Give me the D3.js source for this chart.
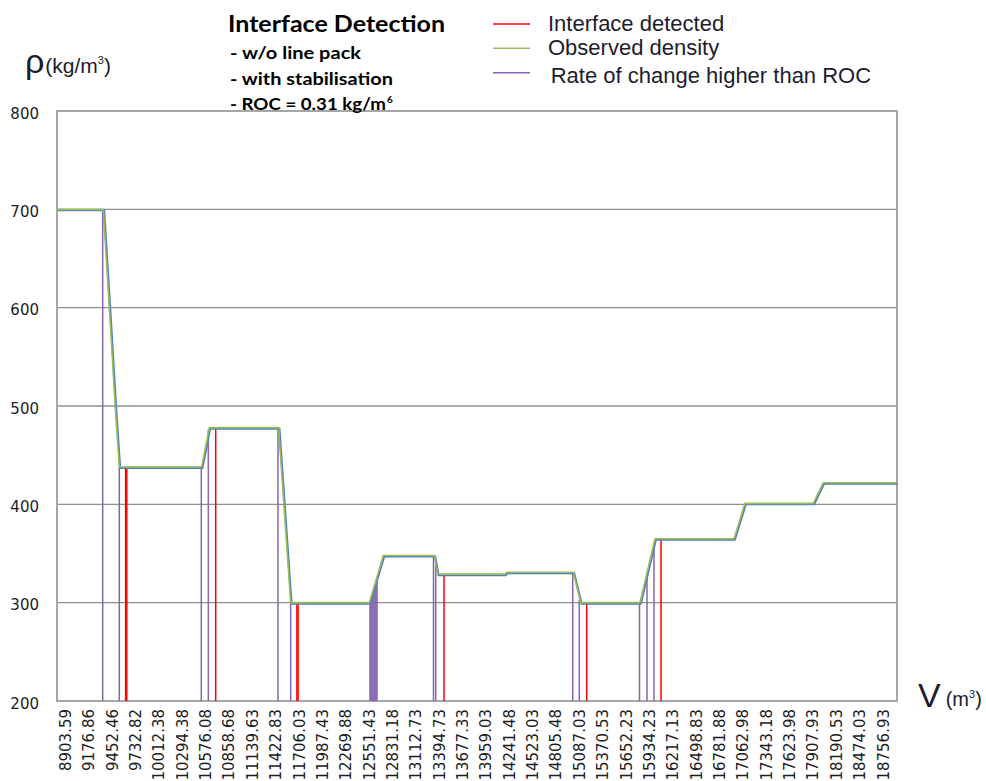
<!DOCTYPE html>
<html>
<head>
<meta charset="utf-8">
<script src="https://cdn.jsdelivr.net/npm/d3@7"></script>
<style>
  body { margin: 0; background: #ffffff; }
  svg { display: block; }
</style>
</head>
<body>
<svg id="chart" width="986" height="781"></svg>
<script>
// Category labels printed along the volume axis (m³)
const xTickLabels = [
  "8903.59", "9176.86", "9452.46", "9732.82", "10012.38", "10294.38",
  "10576.08", "10858.68", "11139.63", "11422.83", "11706.03", "11987.43",
  "12269.88", "12551.43", "12831.18", "13112.73", "13394.73", "13677.33",
  "13959.03", "14241.48", "14523.03", "14805.48", "15087.03", "15370.53",
  "15652.23", "15934.23", "16217.13", "16498.83", "16781.88", "17062.98",
  "17343.18", "17623.98", "17907.93", "18190.53", "18474.03", "18756.93"
];

// Density axis ticks (kg/m³)
const yTicks = [200, 300, 400, 500, 600, 700, 800];

// Observed density profile: volume (m³) and density (kg/m³)
const densityVolume = [
  8810, 9353.1, 9423.9, 9495.4, 9543.4, 10534.4, 10626.2, 11463.6,
  11610.3, 12558.9, 12726.5, 13340.9, 13381.9, 14195.1, 14219.2, 15019.3,
  15108.6, 15825.6, 16006.9, 16961.4, 17093.7, 17917.4, 18038.4, 18935
];
const densityValue = [
  700, 700, 601, 499, 438, 438, 478, 478,
  300, 300, 348, 348, 329, 329, 331, 331,
  300, 300, 365, 365, 401, 401, 422, 422
];

// Points where an interface was detected
const interfaceVolume = [9619, 9633, 10703.6, 11685.4, 11699.9, 13458.1, 15181.4, 16079.6];
const interfaceDensity = [438, 438, 478, 300, 300, 329, 300, 365];

// Points where the rate of change exceeds the ROC threshold
const rocVolume = [
  9346.0, 9543.4, 10529.5, 10614.1, 11456.3, 11610.3,
  12567.2, 12579.2, 12591.2, 12603.2, 12615.1, 12627.1, 12639.1, 12651.1,
  13331.2, 13357.8, 15012.1, 15091.6, 15819.6, 15910.1, 15994.8
];
const rocDensity = [
  700, 438, 438, 476, 478, 300,
  302, 306, 309, 313, 316, 319, 323, 326,
  348, 340, 331, 303, 300, 330, 361
];

// Legend entries
const legendLabels = ["Interface detected", "Observed density", "Rate of change higher than ROC"];
const legendColors = ["#ff0000", "#9bbb59", "#8466ad"];

const svg = d3.select("#chart");
const plot = { left: 57, right: 897, top: 111, bottom: 701 };

// Category axis: labels sit at evenly spaced slots, values between them map linearly
const tickNums = xTickLabels.map(Number);
const firstSlot = 65, lastSlot = 882.6;
const slotStep = (lastSlot - firstSlot) / (tickNums.length - 1);
const x = d3.scaleLinear()
  .domain([densityVolume[0], ...tickNums, densityVolume[densityVolume.length - 1]])
  .range([plot.left, ...tickNums.map((d, i) => firstSlot + i * slotStep), plot.right]);

const y = d3.scaleLinear().domain([200, 800]).range([plot.bottom, plot.top]);

// Horizontal gridlines
svg.append("g")
  .selectAll("line")
  .data(yTicks.slice(1, -1))
  .join("line")
  .attr("x1", plot.left).attr("x2", plot.right)
  .attr("y1", d => y(d)).attr("y2", d => y(d))
  .attr("stroke", "#8f8f8f")
  .attr("stroke-width", 1.4);

// Plot frame
svg.append("rect")
  .attr("x", plot.left).attr("y", plot.top)
  .attr("width", plot.right - plot.left)
  .attr("height", plot.bottom - plot.top)
  .attr("fill", "none")
  .attr("stroke", "#a6a6a6")
  .attr("stroke-width", 2);

// Rate-of-change markers: drop lines from the axis floor up to the density
svg.append("g")
  .selectAll("line")
  .data(rocVolume.map((v, i) => ({ v, d: rocDensity[i] })))
  .join("line")
  .attr("x1", p => x(p.v)).attr("x2", p => x(p.v))
  .attr("y1", y(200)).attr("y2", p => y(p.d))
  .attr("stroke", legendColors[2])
  .attr("stroke-width", 1.5);

// Interface markers
svg.append("g")
  .selectAll("line")
  .data(interfaceVolume.map((v, i) => ({ v, d: interfaceDensity[i] })))
  .join("line")
  .attr("x1", p => x(p.v)).attr("x2", p => x(p.v))
  .attr("y1", y(200)).attr("y2", p => y(p.d))
  .attr("stroke", legendColors[0])
  .attr("stroke-width", 1.5);

// Density trace (blue underlay with the green observed series on top)
const densityPoints = densityVolume.map((v, i) => [v, densityValue[i]]);
const line = d3.line().x(p => x(p[0])).y(p => y(p[1]));
svg.append("path")
  .datum(densityPoints)
  .attr("d", line)
  .attr("fill", "none")
  .attr("stroke", "#4f81bd")
  .attr("stroke-width", 2.2)
  .attr("stroke-linejoin", "round")
  .attr("transform", "translate(0.8,0.9)");
svg.append("path")
  .datum(densityPoints)
  .attr("d", line)
  .attr("fill", "none")
  .attr("stroke", legendColors[1])
  .attr("stroke-width", 1.6)
  .attr("stroke-linejoin", "round");

// Y axis labels
const yAxis = svg.append("g")
  .attr("transform", `translate(${plot.left},0)`)
  .call(d3.axisLeft(y).tickValues(yTicks).tickSize(0).tickPadding(18));
yAxis.select(".domain").remove();
yAxis.selectAll("text")
  .attr("font-family", "DejaVu Sans, Verdana, sans-serif")
  .attr("font-size", 15)
  .attr("fill", "#1c1c24")
  .attr("dy", "0.35em")
  .attr("y", 2);

// X axis labels (rotated)
const xAxis = svg.append("g")
  .attr("transform", `translate(0,${plot.bottom})`)
  .call(d3.axisBottom(x).tickValues(tickNums).tickSize(0).tickFormat(d3.format(".2f")));
xAxis.select(".domain").remove();
xAxis.selectAll("text")
  .attr("font-family", "DejaVu Sans, Verdana, sans-serif")
  .attr("font-size", 15)
  .attr("fill", "#1c1c24")
  .attr("x", 0).attr("y", 0)
  .attr("dy", "0.36em")
  .attr("text-anchor", "end")
  .attr("transform", "translate(0,8) rotate(-90)");

// Axis titles
const rho = svg.append("text")
  .attr("x", 25).attr("y", 73)
  .attr("font-family", "Liberation Sans, Arial, sans-serif")
  .attr("fill", "#1c1c2c");
rho.append("tspan").attr("font-size", 34).text("ρ");
rho.append("tspan").attr("font-size", 21).attr("dx", 1).text("(kg/m");
rho.append("tspan").attr("font-size", 11).attr("dy", -9).text("3");
rho.append("tspan").attr("font-size", 21).attr("dy", 9).text(")");

const vol = svg.append("text")
  .attr("x", 918).attr("y", 707)
  .attr("font-family", "Liberation Sans, Arial, sans-serif")
  .attr("fill", "#1c1c2c");
vol.append("tspan").attr("font-size", 34).text("V");
vol.append("tspan").attr("font-size", 20).attr("dx", 5).attr("dy", -1).text("(m");
vol.append("tspan").attr("font-size", 11).attr("dy", -8).text("3");
vol.append("tspan").attr("font-size", 20).attr("dy", 8).text(")");

// Title block
const titleFont = "Lato, Calibri, 'Open Sans', sans-serif";
svg.append("text")
  .attr("x", 228).attr("y", 32)
  .attr("font-family", titleFont).attr("font-weight", 700)
  .attr("font-size", 22)
  .attr("textLength", 217).attr("lengthAdjust", "spacingAndGlyphs")
  .attr("fill", "#000")
  .text("Interface Detection");

const subLines = ["- w/o line pack", "- with stabilisation"];
const subWidths = [131, 163];
const subBaselines = [59, 85];
subLines.forEach((t, i) => {
  svg.append("text")
    .attr("x", 230).attr("y", subBaselines[i])
    .attr("font-family", titleFont).attr("font-weight", 700)
    .attr("font-size", 17)
    .attr("textLength", subWidths[i]).attr("lengthAdjust", "spacingAndGlyphs")
    .attr("fill", "#000")
    .text(t);
});
const roc = svg.append("text")
  .attr("x", 230).attr("y", 110)
  .attr("font-family", titleFont).attr("font-weight", 700)
  .attr("fill", "#000");
roc.append("tspan").attr("font-size", 17)
  .attr("textLength", 156).attr("lengthAdjust", "spacingAndGlyphs")
  .text("- ROC = 0.31  kg/m");
roc.append("tspan").attr("x", 387).attr("font-size", 10).attr("dy", -7).text("6");

// Legend
const legendY = [24, 48.3, 72.7];
const legendTextY = [31, 55, 83];
const legendTextX = [548, 548, 550.7];
const legend = svg.append("g");
legendLabels.forEach((label, i) => {
  legend.append("line")
    .attr("x1", 493).attr("x2", 530)
    .attr("y1", legendY[i]).attr("y2", legendY[i])
    .attr("stroke", legendColors[i])
    .attr("stroke-width", 1.5);
  legend.append("text")
    .attr("x", legendTextX[i]).attr("y", legendTextY[i])
    .attr("font-family", "Liberation Sans, Arial, sans-serif")
    .attr("font-size", 22)
    .attr("fill", "#1c1c2c")
    .text(label);
});
</script>
</body>
</html>
